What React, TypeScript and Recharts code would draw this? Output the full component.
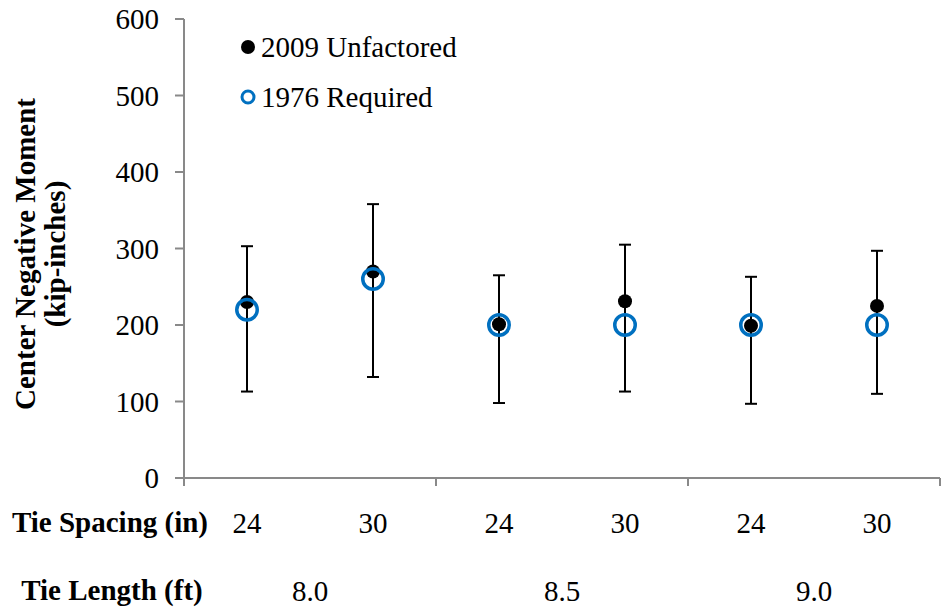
import React from 'react';
import { ScatterChart, Scatter, XAxis, YAxis, ErrorBar, Legend, Label } from 'recharts';

document.body.style.margin = '0';

// tie spacing / tie length categories
const tieSpacing = ['24', '30', '24', '30', '24', '30'];
const tieLength = ['8.0', '8.5', '9.0'];

// center negative moment (kip-inches)
const unfactored2009 = [230, 270, 201, 231, 199, 225];
const required1976 = [220, 260, 200, 200, 200, 200];
const upperBound = [303, 358, 265, 305, 263, 297];
const lowerBound = [113, 132, 98, 113, 97, 110];

const yTicks = [0, 100, 200, 300, 400, 500, 600];

const FONT = '"Liberation Serif", "Times New Roman", serif';
const FS = 29;
const AXIS = '#898989';
const BLUE = '#0070C0';

const unfactoredData = unfactored2009.map((v, i) => ({
  x: i + 0.5,
  y: v,
  err: [v - lowerBound[i], upperBound[i] - v],
}));
const requiredData = required1976.map((v, i) => ({ x: i + 0.5, y: v }));
const spacingTicks = tieSpacing.map((_, i) => i + 0.5);
const lengthTicks = tieLength.map((_, i) => i * 2 + 1);
const groupTicks = [0, 2, 4, 6];

const tickStyle = { fill: '#000', fontSize: FS, fontFamily: FONT };

const LegendBox = () => (
  <div style={{ fontFamily: FONT, fontSize: FS, color: '#000', lineHeight: '50px', whiteSpace: 'nowrap' }}>
    <div style={{ display: 'flex', alignItems: 'center' }}>
      <svg width={16} height={16}>
        <circle cx={8} cy={8} r={7} fill="#000" />
      </svg>
      <span style={{ marginLeft: 5 }}>2009 Unfactored</span>
    </div>
    <div style={{ display: 'flex', alignItems: 'center' }}>
      <svg width={16} height={16}>
        <circle cx={8} cy={8} r={6} fill="none" stroke={BLUE} strokeWidth={3} />
      </svg>
      <span style={{ marginLeft: 5 }}>1976 Required</span>
    </div>
  </div>
);

const YTitle = () => (
  <g fontFamily={FONT} fontSize={FS} fontWeight="bold" fill="#000" textAnchor="middle">
    <text transform="translate(35, 254) rotate(-90)">Center Negative Moment</text>
    <text transform="translate(65, 254) rotate(-90)">(kip-inches)</text>
  </g>
);

const rowTitle = (text: string, cx: number, dy: number) => (props: any) => {
  const vb = props.viewBox || { x: 184, y: 0 };
  return (
    <text x={cx} y={vb.y + dy} textAnchor="middle" fontFamily={FONT} fontSize={FS} fontWeight="bold" fill="#000">
      {text}
    </text>
  );
};

const nothing = () => <g />;

export default function App() {
  return (
    <div style={{ width: 948, height: 613, background: '#fff' }}>
      <ScatterChart width={948} height={613} margin={{ top: 19, right: 8, bottom: 0, left: 0 }}>
        <XAxis
          xAxisId="a_main"
          type="number"
          dataKey="x"
          domain={[0, 6]}
          ticks={groupTicks}
          interval={0}
          allowDataOverflow
          tickFormatter={() => ''}
          tickSize={8}
          height={10}
          axisLine={{ stroke: AXIS, strokeWidth: 2 }}
          tickLine={{ stroke: AXIS, strokeWidth: 2 }}
        />
        <XAxis
          xAxisId="b_spacing"
          type="number"
          dataKey="x"
          domain={[0, 6]}
          ticks={spacingTicks}
          interval={0}
          allowDataOverflow
          tickFormatter={(v: number) => tieSpacing[Math.floor(v)]}
          tick={tickStyle}
          tickSize={0}
          tickMargin={24}
          axisLine={false}
          tickLine={false}
          height={68}
        >
          <Label content={rowTitle('Tie Spacing (in)', 110, 44)} />
        </XAxis>
        <XAxis
          xAxisId="c_length"
          type="number"
          dataKey="x"
          domain={[0, 6]}
          ticks={lengthTicks}
          interval={0}
          allowDataOverflow
          tickFormatter={(v: number) => tieLength[Math.floor(v / 2)]}
          tick={tickStyle}
          tickSize={0}
          tickMargin={24}
          axisLine={false}
          tickLine={false}
          height={57}
        >
          <Label content={rowTitle('Tie Length (ft)', 112, 44)} />
        </XAxis>
        <YAxis
          type="number"
          dataKey="y"
          domain={[0, 600]}
          ticks={yTicks}
          interval={0}
          allowDataOverflow
          width={184}
          tick={tickStyle}
          tickSize={9}
          tickMargin={16}
          axisLine={{ stroke: AXIS, strokeWidth: 2 }}
          tickLine={{ stroke: AXIS, strokeWidth: 2 }}
        >
          <Label content={() => <YTitle />} />
        </YAxis>
        <Legend
          layout="vertical"
          align="center"
          verticalAlign="middle"
          content={() => <LegendBox />}
          wrapperStyle={{ left: 240, top: 22, width: 260, height: 100 }}
        />
        {/* carriers so the label-only axes get a scale */}
        <Scatter xAxisId="b_spacing" data={requiredData} isAnimationActive={false} legendType="none" shape={nothing} />
        <Scatter xAxisId="c_length" data={requiredData} isAnimationActive={false} legendType="none" shape={nothing} />
        <Scatter
          name="2009 Unfactored"
          xAxisId="a_main"
          data={unfactoredData}
          isAnimationActive={false}
          shape={(p: any) => <circle cx={p.cx} cy={p.cy} r={7} fill="#000" />}
        >
          <ErrorBar dataKey="err" direction="y" width={6} stroke="#000" strokeWidth={2} />
        </Scatter>
        <Scatter
          name="1976 Required"
          xAxisId="a_main"
          data={requiredData}
          isAnimationActive={false}
          shape={(p: any) => <circle cx={p.cx} cy={p.cy} r={10.25} fill="none" stroke={BLUE} strokeWidth={3.5} />}
        />
      </ScatterChart>
    </div>
  );
}
